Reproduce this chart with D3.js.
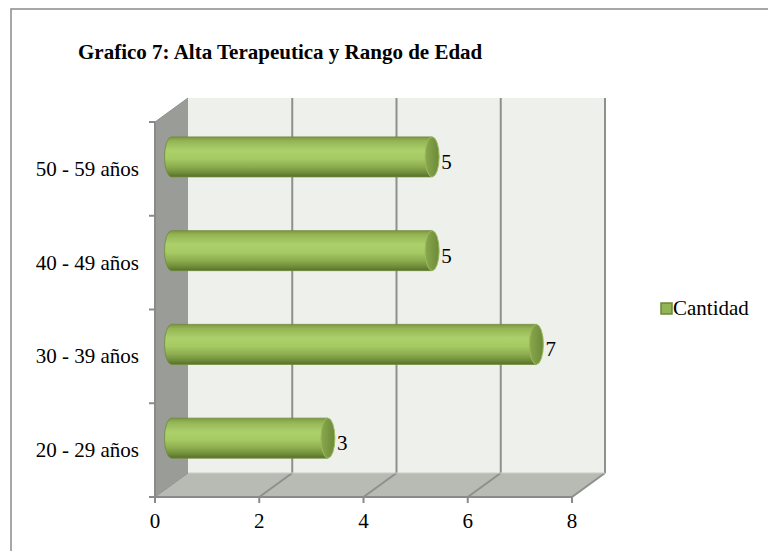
<!DOCTYPE html>
<html>
<head>
<meta charset="utf-8">
<script src="https://cdn.jsdelivr.net/npm/d3@7.9.0/dist/d3.min.js"></script>
<style>
  body { margin: 0; background: #fff; }
  svg { display: block; }
</style>
</head>
<body>
<div id="chart"></div>
<script>
const categories = ["20 - 29 años", "30 - 39 años", "40 - 49 años", "50 - 59 años"];
const values = [3, 7, 5, 5];
const xTicks = [0, 2, 4, 6, 8];
const seriesName = "Cantidad";
const title = "Grafico 7: Alta Terapeutica y Rango de Edad";

const W = 768, H = 551;
const DX = 33, DY = -24;   // depth offset of the 3d box
const FONT = "'Liberation Serif', 'Times New Roman', serif";

const svg = d3.select("#chart").append("svg")
  .attr("width", W).attr("height", H)
  .attr("font-family", FONT);

const defs = svg.append("defs");

const barGrad = defs.append("linearGradient").attr("id", "barGrad")
  .attr("x1", 0).attr("y1", 0).attr("x2", 0).attr("y2", 1);
[[0, "#7a9642"], [0.1, "#94b454"], [0.35, "#acd16b"], [0.55, "#a5c963"],
 [0.75, "#8cac4f"], [0.9, "#6f8d39"], [1, "#56702b"]]
  .forEach(([o, c]) => barGrad.append("stop").attr("offset", o).attr("stop-color", c));

const capGrad = defs.append("linearGradient").attr("id", "capGrad")
  .attr("x1", 0).attr("y1", 0).attr("x2", 1).attr("y2", 0);
[[0, "#8aa84c"], [0.5, "#7b9943"], [1, "#6c8a38"]]
  .forEach(([o, c]) => capGrad.append("stop").attr("offset", o).attr("stop-color", c));

// outer frame
svg.append("rect")
  .attr("x", 11).attr("y", 9).attr("width", W).attr("height", H)
  .attr("fill", "none").attr("stroke", "#8a8a8a").attr("stroke-width", 1.5);

svg.append("text")
  .attr("x", 78).attr("y", 59)
  .attr("font-family", FONT)
  .attr("font-size", 21).attr("font-weight", "bold")
  .text(title);

// scales on the front plane
const x = d3.scaleLinear().domain([0, 8]).range([155, 572]);
const y = d3.scaleBand().domain(categories.slice().reverse()).range([122, 497]);
const [x0, x1] = x.range();
const [yTop, yBot] = y.range();

// walls
svg.append("polygon")
  .attr("points", [[x0 + DX, yTop + DY], [x1 + DX, yTop + DY], [x1 + DX, yBot + DY], [x0 + DX, yBot + DY]].join(" "))
  .attr("fill", "#eef0eb");
svg.append("polygon")
  .attr("points", [[x0, yTop], [x0 + DX, yTop + DY], [x0 + DX, yBot + DY], [x0, yBot]].join(" "))
  .attr("fill", "#9a9c97");
svg.append("polygon")
  .attr("points", [[x0, yBot], [x1, yBot], [x1 + DX, yBot + DY], [x0 + DX, yBot + DY]].join(" "))
  .attr("fill", "#b8bab4");

// gridlines: back wall verticals + floor diagonals
const grid = svg.append("g").attr("stroke", "#8e908b").attr("stroke-width", 2).attr("fill", "none");
xTicks.forEach(t => {
  if (t > 0) {
    grid.append("line")
      .attr("x1", x(t) + DX).attr("x2", x(t) + DX)
      .attr("y1", yTop + DY).attr("y2", yBot + DY);
    grid.append("line")
      .attr("x1", x(t)).attr("y1", yBot)
      .attr("x2", x(t) + DX).attr("y2", yBot + DY);
  }
});
grid.append("line")
  .attr("x1", x0 + DX).attr("x2", x1 + DX)
  .attr("y1", yBot + DY).attr("y2", yBot + DY)
  .attr("stroke-width", 1).attr("stroke", "#c9cbc6");
grid.append("line")
  .attr("x1", x0).attr("y1", yBot).attr("x2", x0 + DX).attr("y2", yBot + DY)
  .attr("stroke-width", 1);
grid.append("line")
  .attr("x1", x0).attr("y1", yTop).attr("x2", x0 + DX).attr("y2", yTop + DY)
  .attr("stroke-width", 1);

// axes on front plane
const axisG = svg.append("g").attr("stroke", "#8a8a8a").attr("stroke-width", 2);
axisG.append("line").attr("x1", x0).attr("x2", x0).attr("y1", yTop).attr("y2", yBot);
axisG.append("line").attr("x1", x0).attr("x2", x1).attr("y1", yBot).attr("y2", yBot);
const yEdges = categories.map(c => y(c)).concat([yBot]);
yEdges.forEach(v => axisG.append("line").attr("x1", x0 - 6).attr("x2", x0).attr("y1", v).attr("y2", v));
xTicks.forEach(t => axisG.append("line").attr("x1", x(t)).attr("x2", x(t)).attr("y1", yBot).attr("y2", yBot + 6));

svg.append("g").selectAll("text")
  .data(xTicks).join("text")
  .attr("font-family", FONT)
  .attr("x", d => x(d)).attr("y", 528)
  .attr("text-anchor", "middle").attr("font-size", 21)
  .text(d => d);

svg.append("g").selectAll("text")
  .data(categories).join("text")
  .attr("font-family", FONT)
  .attr("x", 139).attr("y", d => y(d) + y.bandwidth() / 2 + 7)
  .attr("text-anchor", "end").attr("font-size", 21)
  .text(d => d);

// cylinders at mid depth
const barH = 40, rx = 7;
const bars = svg.append("g").selectAll("g")
  .data(categories.map((c, i) => ({cat: c, v: values[i]})))
  .join("g");

bars.each(function (d) {
  const g = d3.select(this);
  const cy = y(d.cat) + y.bandwidth() / 2 + DY / 2;
  const bx0 = x(0) + DX / 2, bx1 = x(d.v) + DX / 2;
  const top = cy - barH / 2, bot = cy + barH / 2;
  g.append("path")
    .attr("d", `M${bx0},${top}L${bx1},${top}L${bx1},${bot}L${bx0},${bot}A${rx},${barH / 2} 0 0 1 ${bx0},${top}Z`)
    .attr("fill", "url(#barGrad)")
    .attr("stroke", "#6f8a3a").attr("stroke-width", 0.8);
  g.append("ellipse")
    .attr("cx", bx1).attr("cy", cy).attr("rx", rx).attr("ry", barH / 2)
    .attr("fill", "url(#capGrad)")
    .attr("stroke", "#9cba5c").attr("stroke-width", 1);
  g.append("text")
    .attr("font-family", FONT)
    .attr("x", bx1 + rx + 2).attr("y", cy + 12)
    .attr("font-size", 21)
    .text(d.v);
});

// legend
const leg = svg.append("g").attr("transform", "translate(661,303)");
leg.append("rect").attr("x", 0).attr("y", 0).attr("width", 11).attr("height", 11)
  .attr("fill", "#93b357").attr("stroke", "#6b8a33").attr("stroke-width", 1.5);
leg.append("text").attr("font-family", FONT)
  .attr("x", 12).attr("y", 12).attr("font-size", 21).text(seriesName);
</script>
</body>
</html>
